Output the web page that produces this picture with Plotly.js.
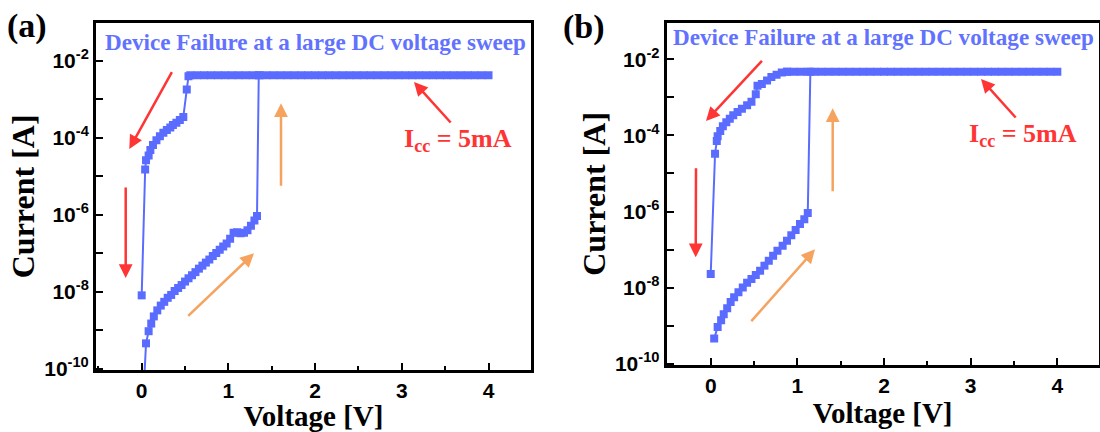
<!DOCTYPE html>
<html><head><meta charset="utf-8">
<script src="https://cdn.plot.ly/plotly-3.0.1.min.js"></script>
<style>html,body{margin:0;padding:0;background:#fff}#chart{width:1100px;height:432px}</style>
</head><body><div id="chart"></div>
<script>
// ---------- panel (a) data ----------
const aSetV = [0.02,0.05,0.08,0.11,0.14,0.18,0.22,0.26,0.30,0.34,0.38,0.42,0.46,0.50,0.54,0.58,0.62,0.66,0.70,0.74,0.78,0.82,0.86,0.90,0.94,0.98,1.02,1.06,1.10,1.14,1.18,1.22,1.26,1.30,1.33,1.35];
const aSetI = [2e-11,4.6e-10,9.5e-10,1.5e-9,2.3e-9,3.3e-9,4.4e-9,5.5e-9,7.0e-9,8.3e-9,1.05e-8,1.26e-8,1.5e-8,1.85e-8,2.25e-8,2.7e-8,3.25e-8,4.0e-8,4.8e-8,5.75e-8,6.9e-8,8.5e-8,1.02e-7,1.23e-7,1.5e-7,1.8e-7,2.4e-7,3.4e-7,3.55e-7,3.3e-7,3.4e-7,4.0e-7,5.2e-7,7.1e-7,9.3e-7,4.2e-3];
const aCcV = [0.56,0.64,0.72,0.80,0.88,0.96,1.04,1.12,1.20,1.28,1.36,1.44,1.52,1.60,1.68,1.76,1.84,1.92,2.00,2.08,2.16,2.24,2.32,2.40,2.48,2.56,2.64,2.72,2.80,2.88,2.96,3.04,3.12,3.20,3.28,3.36,3.44,3.52,3.60,3.68,3.76,3.84,3.92,4.00];
const aCcI = [4.2e-3,4.2e-3,4.2e-3,4.2e-3,4.2e-3,4.2e-3,4.2e-3,4.2e-3,4.2e-3,4.2e-3,4.2e-3,4.2e-3,4.2e-3,4.2e-3,4.2e-3,4.2e-3,4.2e-3,4.2e-3,4.2e-3,4.2e-3,4.2e-3,4.2e-3,4.2e-3,4.2e-3,4.2e-3,4.2e-3,4.2e-3,4.2e-3,4.2e-3,4.2e-3,4.2e-3,4.2e-3,4.2e-3,4.2e-3,4.2e-3,4.2e-3,4.2e-3,4.2e-3,4.2e-3,4.2e-3,4.2e-3,4.2e-3,4.2e-3,4.2e-3];
const aResetV = [0.54,0.52,0.48,0.44,0.40,0.36,0.33,0.29,0.25,0.21,0.17,0.13,0.10,0.08,0.05,0.04,0.00];
const aResetI = [4.0e-3,1.8e-3,3.5e-4,2.9e-4,2.45e-4,2.15e-4,1.85e-4,1.6e-4,1.35e-4,1.1e-4,8.7e-5,6.5e-5,4.8e-5,3.5e-5,2.6e-5,1.5e-5,8.1e-9];

// ---------- panel (b) data ----------
const bSetV = [0.04,0.08,0.12,0.15,0.19,0.23,0.27,0.32,0.37,0.42,0.47,0.52,0.57,0.62,0.67,0.72,0.77,0.83,0.88,0.93,0.98,1.03,1.08,1.12,1.15];
const bSetI = [4.6e-10,9.3e-10,1.4e-9,2.0e-9,2.9e-9,4.2e-9,5.6e-9,7.6e-9,1.02e-8,1.35e-8,1.7e-8,2.15e-8,2.8e-8,3.8e-8,5.1e-8,6.9e-8,9.3e-8,1.26e-7,1.7e-7,2.4e-7,3.3e-7,4.7e-7,6.3e-7,9.1e-7,4.7e-3];
const bCcV = [0.88,0.96,1.04,1.12,1.20,1.28,1.36,1.44,1.52,1.60,1.68,1.76,1.84,1.92,2.00,2.08,2.16,2.24,2.32,2.40,2.48,2.56,2.64,2.72,2.80,2.88,2.96,3.04,3.12,3.20,3.28,3.36,3.44,3.52,3.60,3.68,3.76,3.84,3.92,4.00];
const bCcI = [4.7e-3,4.7e-3,4.7e-3,4.7e-3,4.7e-3,4.7e-3,4.7e-3,4.7e-3,4.7e-3,4.7e-3,4.7e-3,4.7e-3,4.7e-3,4.7e-3,4.7e-3,4.7e-3,4.7e-3,4.7e-3,4.7e-3,4.7e-3,4.7e-3,4.7e-3,4.7e-3,4.7e-3,4.7e-3,4.7e-3,4.7e-3,4.7e-3,4.7e-3,4.7e-3,4.7e-3,4.7e-3,4.7e-3,4.7e-3,4.7e-3,4.7e-3,4.7e-3,4.7e-3,4.7e-3,4.7e-3];
const bResetV = [0.88,0.82,0.76,0.70,0.65,0.59,0.54,0.52,0.47,0.42,0.36,0.31,0.26,0.22,0.18,0.14,0.11,0.08,0.07,0.05,0.00];
const bResetI = [4.7e-3,4.5e-3,3.9e-3,3.4e-3,2.75e-3,2.25e-3,2.0e-3,1.2e-3,7.6e-4,6.2e-4,5.0e-4,4.1e-4,3.4e-4,2.75e-4,2.2e-4,1.75e-4,1.3e-4,9.5e-5,7.1e-5,3.3e-5,2.3e-8];

// ---------- tick labels ----------
const yTickVals = [1e-10,1e-8,1e-6,1e-4,1e-2];
const yTickText = ['<b>10<sup>-10</sup></b>','<b>10<sup>-8</sup></b>','<b>10<sup>-6</sup></b>','<b>10<sup>-4</sup></b>','<b>10<sup>-2</sup></b>'];
const xTickVals = [0,1,2,3,4];
const xTickText = ['<b>0</b>','<b>1</b>','<b>2</b>','<b>3</b>','<b>4</b>'];

// ---------- styles ----------
const W = 1100, H = 432;
const BLUE = '#5a6cff', TEXTBLUE = '#6272ff', RED = '#ff3434', ORANGE = '#f5a35f';
const SERIF = 'Liberation Serif, Times New Roman, serif';
const SANS = 'Liberation Sans, Arial, sans-serif';
const px = v => v / W;
const py = v => 1 - v / H;

function tr(x, y, xa, ya) {
  return {x: x, y: y, xaxis: xa, yaxis: ya, type: 'scatter', mode: 'lines+markers',
    line: {color: BLUE, width: 2}, marker: {symbol: 'square', size: 8, color: BLUE},
    showlegend: false, hoverinfo: 'x+y'};
}
const data = [
  tr(aSetV, aSetI, 'x', 'y'), tr(aCcV, aCcI, 'x', 'y'), tr(aResetV, aResetI, 'x', 'y'),
  tr(bSetV, bSetI, 'x2', 'y2'), tr(bCcV, bCcI, 'x2', 'y2'), tr(bResetV, bResetI, 'x2', 'y2')
];

function xax(domain, range, anchor) {
  return {domain: domain, range: range, anchor: anchor, showgrid: false, zeroline: false,
    showline: true, linecolor: '#000', linewidth: 3, mirror: true,
    ticks: 'inside', ticklen: 7, tickwidth: 2, tickcolor: '#000',
    tickmode: 'array', tickvals: xTickVals, ticktext: xTickText,
    minor: {ticks: 'inside', dtick: 0.5, tick0: 0, ticklen: 4, tickwidth: 2, tickcolor: '#000', showgrid: false},
    tickfont: {family: SANS, size: 21, color: '#000'},
    title: {text: 'Voltage [V]', font: {family: SERIF, size: 29, color: '#000', weight: 'bold'}, standoff: 3}};
}
function yax(domain, range, anchor) {
  return {type: 'log', domain: domain, range: range, anchor: anchor, showgrid: false, zeroline: false,
    showline: true, linecolor: '#000', linewidth: 3, mirror: true,
    ticks: 'inside', ticklen: 7, tickwidth: 2, tickcolor: '#000',
    tickmode: 'array', tickvals: yTickVals, ticktext: yTickText,
    minor: {ticks: 'inside', dtick: 1, ticklen: 7, tickwidth: 2, tickcolor: '#000', showgrid: false},
    tickfont: {family: SANS, size: 21, color: '#000'},
    title: {text: 'Current [A]', font: {family: SERIF, size: 32, color: '#000', weight: 'bold'}, standoff: 0}};
}

function arrow(tipX, tipY, tailX, tailY, color) {
  return {xref: 'paper', yref: 'paper', x: px(tipX), y: py(tipY), ax: tailX - tipX, ay: tailY - tipY,
    axref: 'pixel', ayref: 'pixel', text: '', showarrow: true, arrowhead: 2, arrowsize: 1.1,
    arrowwidth: 2.5, arrowcolor: color, standoff: 0, startstandoff: 0};
}
function label(text, x, y, size, color, xanchor) {
  return {xref: 'paper', yref: 'paper', x: px(x), y: py(y), text: text, showarrow: false,
    xanchor: xanchor || 'left', yanchor: 'middle', borderpad: 0,
    font: {family: SERIF, size: size, color: color, weight: 'bold'}};
}

const layout = {
  width: W, height: H, margin: {l: 0, r: 0, t: 0, b: 0},
  paper_bgcolor: '#fff', plot_bgcolor: '#fff',
  xaxis: xax([px(96), px(531)], [-0.527, 4.49], 'y'),
  yaxis: yax([py(370), py(22.7)], [-10.03, -1.01], 'x'),
  xaxis2: xax([px(666.7), px(1098.5)], [-0.508, 4.475], 'y2'),
  yaxis2: yax([py(365), py(22.7)], [-10.03, -1.04], 'x2'),
  annotations: [
    label('(a)', 6, 26, 34, '#000'),
    label('(b)', 562, 27, 34, '#000'),
    label('Device Failure at a large DC voltage sweep', 104, 42, 23.1, TEXTBLUE),
    label('Device Failure at a large DC voltage sweep', 672, 37, 23.1, TEXTBLUE),
    label('I<sub>cc</sub> = 5mA', 403, 140, 26, RED),
    label('I<sub>cc</sub> = 5mA', 968, 135, 26, RED),
    arrow(129.3, 149, 172.7, 70.7, RED),
    arrow(125.7, 278, 125.7, 186, RED),
    arrow(281, 103.3, 281, 187.3, ORANGE),
    arrow(254, 253.3, 186.7, 317.3, ORANGE),
    arrow(414, 82, 452, 124, RED),
    arrow(706, 121, 763.3, 59.3, RED),
    arrow(695.7, 257.3, 696, 166.7, RED),
    arrow(832.7, 108.3, 832.7, 192.7, ORANGE),
    arrow(815, 249.3, 750, 322.7, ORANGE),
    arrow(981, 79, 1017, 119, RED)
  ]
};
Plotly.newPlot('chart', data, layout, {displayModeBar: false, staticPlot: true});
</script></body></html>
